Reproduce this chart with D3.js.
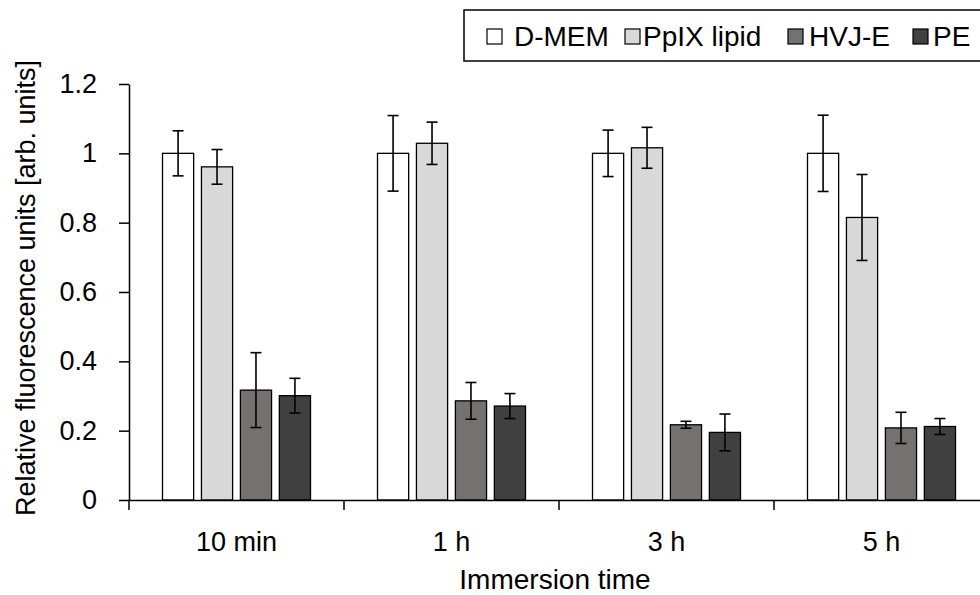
<!DOCTYPE html>
<html>
<head>
<meta charset="utf-8">
<script src="https://cdn.jsdelivr.net/npm/d3@7"></script>
<style>
  body { margin: 0; background: #fff; }
  svg { display: block; }
  text { font-family: "Liberation Sans", Arial, sans-serif; fill: #000; }
</style>
</head>
<body>
<svg id="chart" width="980" height="595"></svg>
<script>
// Immersion time points and treatment groups
const categories = ["10 min", "1 h", "3 h", "5 h"];
const seriesNames = ["D-MEM", "PpIX lipid", "HVJ-E", "PE"];

// Mean relative fluorescence per group, one value per time point
const dmem = [1.000, 1.000, 1.000, 1.000];
const ppix = [0.961, 1.029, 1.016, 0.815];
const hvje = [0.317, 0.286, 0.217, 0.208];
const pe   = [0.301, 0.271, 0.195, 0.212];

// Error bar half-lengths (±)
const dmemErr = [0.065, 0.109, 0.067, 0.110];
const ppixErr = [0.050, 0.061, 0.059, 0.124];
const hvjeErr = [0.108, 0.053, 0.010, 0.045];
const peErr   = [0.050, 0.036, 0.053, 0.023];

const yTicks = [0, 0.2, 0.4, 0.6, 0.8, 1, 1.2];
const fills = ["#ffffff", "#d9d9d9", "#767171", "#404040"];

const values = [dmem, ppix, hvje, pe];
const errors = [dmemErr, ppixErr, hvjeErr, peErr];

const rows = [];
categories.forEach((c, ci) => {
  seriesNames.forEach((s, si) => {
    rows.push({ cat: c, series: s, si, value: values[si][ci], err: errors[si][ci] });
  });
});

const svg = d3.select("#chart");

const plot = { left: 129, right: 989, top: 84, bottom: 500 };

const x0 = d3.scaleBand().domain(categories).range([plot.left, plot.right]).padding(0);
const groupInset = 33.5;
const x1 = d3.scaleBand().domain(seriesNames)
  .range([groupInset, x0.bandwidth() - groupInset]).paddingInner(0.2);
const y = d3.scaleLinear().domain([0, 1.2]).range([plot.bottom, plot.top]);
const color = d3.scaleOrdinal().domain(seriesNames).range(fills);

// Bars
svg.append("g").selectAll("rect").data(rows).join("rect")
  .attr("x", d => x0(d.cat) + x1(d.series))
  .attr("y", d => y(d.value))
  .attr("width", x1.bandwidth())
  .attr("height", d => y(0) - y(d.value))
  .attr("fill", d => color(d.series))
  .attr("stroke", "#000")
  .attr("stroke-width", 1.3);

// Error bars
const capHalf = 5.5;
const eb = svg.append("g").attr("stroke", "#000").attr("stroke-width", 1.6);
rows.forEach(d => {
  const cx = x0(d.cat) + x1(d.series) + x1.bandwidth() / 2;
  const yt = y(d.value + d.err), yb = y(d.value - d.err);
  eb.append("line").attr("x1", cx).attr("x2", cx).attr("y1", yt).attr("y2", yb);
  eb.append("line").attr("x1", cx - capHalf).attr("x2", cx + capHalf).attr("y1", yt).attr("y2", yt);
  eb.append("line").attr("x1", cx - capHalf).attr("x2", cx + capHalf).attr("y1", yb).attr("y2", yb);
});

// Y axis
const yAxis = svg.append("g")
  .attr("transform", `translate(${plot.left},0)`)
  .call(d3.axisLeft(y).tickValues(yTicks).tickFormat(d3.format("~g"))
    .tickSize(10).tickSizeOuter(0).tickPadding(22));
yAxis.select(".domain").attr("stroke", "#000").attr("stroke-width", 1.5);
yAxis.selectAll(".tick line").attr("stroke", "#000").attr("stroke-width", 1.5);
yAxis.selectAll(".tick text").attr("font-size", 27).style("font-family", "'Liberation Sans', Arial, sans-serif");

// X axis: category labels, with tick marks on the category boundaries
const xAxis = svg.append("g")
  .attr("transform", `translate(0,${plot.bottom})`)
  .call(d3.axisBottom(x0).tickSize(0).tickSizeOuter(0).tickPadding(32));
xAxis.select(".domain").attr("stroke", "#000").attr("stroke-width", 1.5);
xAxis.selectAll(".tick text").attr("font-size", 27).style("font-family", "'Liberation Sans', Arial, sans-serif");

const boundaries = [x0(categories[0])].concat(categories.map(c => x0(c) + x0.bandwidth()));
svg.append("g").selectAll("line").data(boundaries).join("line")
  .attr("x1", d => d).attr("x2", d => d)
  .attr("y1", plot.bottom).attr("y2", plot.bottom + 10)
  .attr("stroke", "#000").attr("stroke-width", 1.5);

// Axis titles
svg.append("text")
  .attr("x", 555).attr("y", 589)
  .attr("text-anchor", "middle").attr("font-size", 28)
  .text("Immersion time");

svg.append("text")
  .attr("transform", "translate(35,288) rotate(-90)")
  .attr("text-anchor", "middle").attr("font-size", 27)
  .text("Relative fluorescence units [arb. units]");

// Legend: swatch and label start positions for each entry
const legendSwatchX = [487, 625, 788, 913];
const legendLabelX = [514, 643, 809, 933];
const legend = svg.append("g");
legend.append("rect")
  .attr("x", 464).attr("y", 10).attr("width", 540).attr("height", 51)
  .attr("fill", "#fff").attr("stroke", "#000").attr("stroke-width", 1.5);

seriesNames.forEach((s, i) => {
  legend.append("rect")
    .attr("x", legendSwatchX[i]).attr("y", 29).attr("width", 15).attr("height", 15)
    .attr("fill", color(s)).attr("stroke", "#000").attr("stroke-width", 1.2);
  legend.append("text")
    .attr("x", legendLabelX[i]).attr("y", 46)
    .attr("font-size", 28)
    .text(s);
});
</script>
</body>
</html>
